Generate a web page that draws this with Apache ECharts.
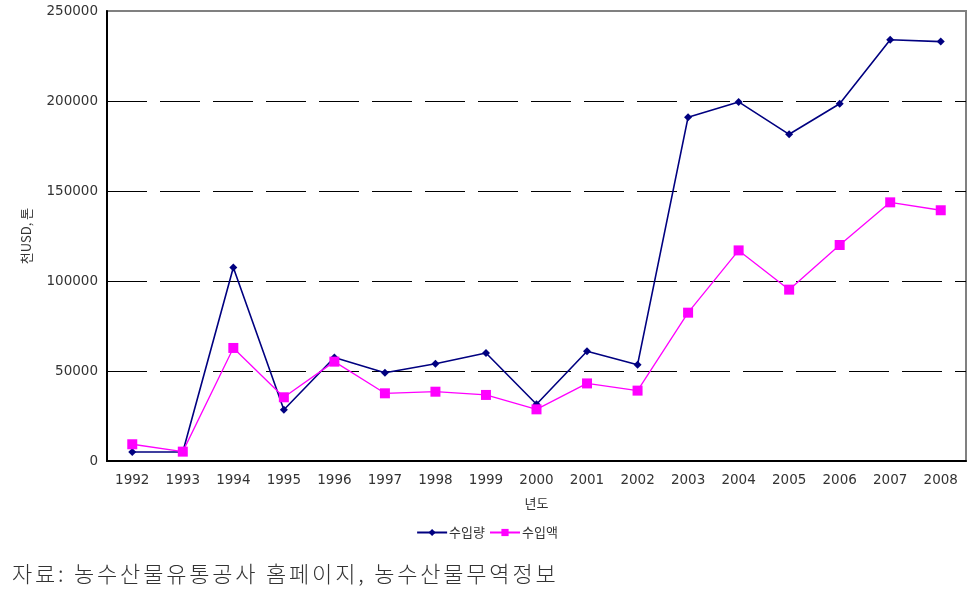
<!DOCTYPE html>
<html><head><meta charset="utf-8">
<script src="https://cdn.jsdelivr.net/npm/echarts@6/dist/echarts.min.js"></script>
<style>html,body{margin:0;padding:0;background:#fff;}#wrap{position:relative;width:974px;height:590px;}#c{width:974px;height:590px;}
#src{position:absolute;left:12px;top:557px;font-family:'Noto Sans CJK KR',sans-serif;font-size:22px;line-height:30px;color:#333;letter-spacing:2.8px;white-space:pre;font-weight:300;}</style>
</head><body><div id="wrap"><div id="c"></div><div id="src"></div></div>
<script>
const years = ['1992','1993','1994','1995','1996','1997','1998','1999','2000','2001','2002','2003','2004','2005','2006','2007','2008'];
const volume = [5000,5000,107500,28500,57500,49000,54000,60000,31500,61000,53500,191000,199500,181500,198500,234000,233000];
const amount = [9300,5200,62800,35400,55200,37600,38500,36700,28700,43100,39100,82400,117000,95200,120000,143700,139300];
const yTicks = [0,50000,100000,150000,200000,250000];
const seriesNames = ['수입량','수입액'];
const sourceText = '자료: 농수산물유통공사 홈페이지, 농수산물무역정보';

document.getElementById('src').textContent = sourceText;
const chart = echarts.init(document.getElementById('c'), null, {renderer:'canvas'});
const font = 'DejaVu Sans, sans-serif';
chart.setOption({
  animation:false,
  backgroundColor:'#fff',
  grid:{left:107,right:8,top:11,bottom:129,show:true,borderColor:'#808080',borderWidth:2,backgroundColor:'#fff'},
  legend:{
    bottom:46,left:'center',itemGap:4,itemWidth:30,itemHeight:9,
    textStyle:{fontSize:13,color:'#333',fontFamily:'Noto Sans CJK KR',padding:[0,0,0,-3]},
    data:seriesNames
  },
  xAxis:{
    type:'category',data:years,boundaryGap:true,
    name:'년도',nameLocation:'middle',nameGap:36,
    nameTextStyle:{fontSize:13,color:'#333',fontFamily:'Noto Sans CJK KR'},
    axisLine:{lineStyle:{color:'#000',width:2}},
    axisTick:{inside:true,length:5,lineStyle:{color:'#000'}},
    axisLabel:{fontSize:13.5,color:'#333',margin:12,fontFamily:font},
    splitLine:{show:false}
  },
  yAxis:{
    type:'value',min:0,max:250000,interval:50000,
    name:'천USD, 톤',nameLocation:'middle',nameGap:74,nameRotate:90,
    nameTextStyle:{fontSize:13,color:'#333',fontFamily:'Noto Sans CJK KR'},
    axisLine:{show:true,lineStyle:{color:'#000',width:2}},
    axisTick:{show:false},
    axisLabel:{fontSize:13.5,color:'#333',margin:9,fontFamily:font,
      formatter:v=>yTicks.includes(v)?String(v):''},
    splitLine:{show:true,showMinLine:false,showMaxLine:false,lineStyle:{color:'#000',width:1.2,type:[40,13]}}
  },
  series:[
    {name:seriesNames[0],type:'line',data:volume,symbol:'diamond',symbolSize:8,
     itemStyle:{color:'#000080'},lineStyle:{color:'#000080',width:1.6}},
    {name:seriesNames[1],type:'line',data:amount,symbol:'rect',symbolSize:10,
     itemStyle:{color:'#ff00ff'},lineStyle:{color:'#ff00ff',width:1.3}}
  ]
});
</script></body></html>
